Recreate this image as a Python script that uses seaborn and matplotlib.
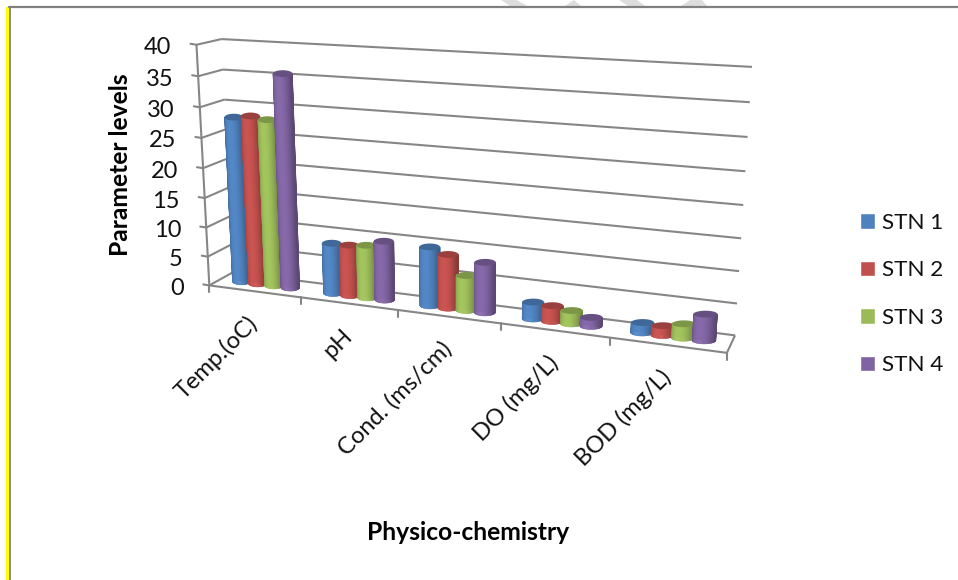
import numpy as np
import pandas as pd
import matplotlib
matplotlib.use("Agg")
import matplotlib.pyplot as plt
from matplotlib.colors import to_rgb
from matplotlib.patches import Polygon, Rectangle
from matplotlib.transforms import IdentityTransform, Transform
import seaborn as sns

# ---- data ----
categories = ["Temp.(oC)", "pH", "Cond. (ms/cm)", "DO (mg/L)", "BOD (mg/L)"]
stations = ["STN 1", "STN 2", "STN 3", "STN 4"]
stn1 = [28.0, 8.5, 9.7, 2.7, 1.6]
stn2 = [28.4, 8.5, 8.8, 2.5, 1.5]
stn3 = [28.0, 8.8, 5.7, 2.1, 2.2]
stn4 = [35.6, 9.8, 8.2, 1.4, 4.1]
colors = ["#4F81BD", "#C0504D", "#9BBB59", "#8064A2"]
y_ticks = list(range(0, 45, 5))
W, H = 958, 580

df = pd.DataFrame({
    "cat": categories * 4,
    "stn": [s for s in stations for _ in categories],
    "val": stn1 + stn2 + stn3 + stn4,
})

# ---- oblique perspective: (category, value, depth) -> picture pixels ----
anchors = [
    (-.5, 0, 0, 210, 285), (.5, 0, 0, 301, 297), (1.5, 0, 0, 398, 310),
    (2.5, 0, 0, 501, 323.7), (3.5, 0, 0, 610, 338), (4.5, 0, 0, 727, 353),
    (-.5, 40, 0, 196, 45), (-.5, 20, 0, 202.7, 168), (-.5, 0, 1, 232, 273),
    (-.5, 40, 1, 222, 39), (4.5, 0, 1, 735, 335), (4.5, 40, 1, 752, 67),
    (4.5, 20, 1, 743.3, 204.7),
]
rows = []
for ax_, ay_, az_, px_, py_ in anchors:
    v = [ax_, ay_ / 40, az_, 1]
    rows.append(v + [0, 0, 0, 0] + [-px_ / 100 * c for c in v])
    rows.append([0, 0, 0, 0] + v + [-py_ / 100 * c for c in v])
CAM = np.linalg.svd(np.array(rows))[2][-1].reshape(3, 4)


def project(x, y, z):
    x, y, z = np.broadcast_arrays(np.asarray(x, float), np.asarray(y, float), np.asarray(z, float))
    p = np.stack([x, y / 40, z, np.ones_like(x)], axis=-1) @ CAM.T
    return p[..., 0] / p[..., 2] * 100, H - p[..., 1] / p[..., 2] * 100


class Camera(Transform):
    input_dims = output_dims = 2
    is_separable = False

    def __init__(self, plane_z):
        super().__init__()
        self.plane_z = plane_z

    def transform_non_affine(self, values):
        values = np.asarray(values, float)
        return np.column_stack(project(values[:, 0], values[:, 1], self.plane_z))


sns.set_theme(style="white")
plt.rcParams["font.family"] = ["Lato", "DejaVu Sans"]
fig = plt.figure(figsize=(W / 100, H / 100), dpi=100, facecolor="white")
ax = fig.add_axes([0, 0, 1, 1])
sns.barplot(data=df, x="cat", y="val", hue="stn", order=categories, hue_order=stations,
            palette=colors, saturation=1, width=0.72, gap=-0.12, errorbar=None, ax=ax)
ax.set_xlim(-.5, 4.5)
ax.set_ylim(0, 40)
ax.set_axis_off()
ID = IdentityTransform()
GRID = "#868686"


def line3(p, q, lw=1.5, color=GRID, z=1):
    xs, ys = project(*np.array([p, q], float).T)
    ax.plot(xs, ys, color=color, lw=lw, transform=ID, clip_on=False, zorder=z, solid_capstyle="butt")


# walls, floor and ticks
for t in y_ticks:
    line3((-.5, t, 1), (4.5, t, 1))
    line3((-.5, t, 0), (-.5, t, 1))
    x0, y0 = project(-.5, t, 0)
    ax.plot([x0 - 6, x0], [y0 + 1, y0], color=GRID, lw=1.5, transform=ID, clip_on=False)
    ax.text(x0 - 25, y0 - 3, str(t), ha="right", va="center", fontsize=17, color="#111111",
            transform=ID, clip_on=False)
line3((-.5, 0, 0), (-.5, 40, 0))
line3((-.5, 0, 0), (4.5, 0, 0))
line3((4.5, 0, 0), (4.5, 0, 1))
for i in range(6):
    x0, y0 = project(i - .5, 0, 0)
    ax.plot([x0, x0], [y0, y0 - 7], color=GRID, lw=1.5, transform=ID, clip_on=False)

# category labels
for i, name in enumerate(categories):
    x0, y0 = project(i, 0, 0)
    ax.text(x0, y0 - 29, name, rotation=45, rotation_mode="anchor", ha="right",
            va="center", fontsize=17, color="#111111", transform=ID, clip_on=False)

# seaborn's bars become cylinders standing mid-way between the walls
ZC, RY, N = 0.5, 3.4, 30
cam = Camera(ZC)


def rim(xc, r, val, ang_x, ang_y):
    """Screen ellipse of a cylinder section, level on the page."""
    cx, cy = project(xc, val, ZC)
    ax_x, _ = project(xc + r, val, ZC)
    return cx + (ax_x - cx) * ang_x, cy + RY * ang_y


for s, cont in enumerate(ax.containers):
    base = np.array(to_rgb(colors[s]))
    for bar in cont:
        xc = bar.get_x() + bar.get_width() / 2
        r = bar.get_width() / 2
        top = bar.get_height()
        bar.set_transform(cam)
        bar.set_clip_on(False)
        bar.set_edgecolor("none")
        bar.set_zorder(3 + s)
        th = np.linspace(-np.pi / 2, np.pi / 2, N + 1)
        for k in range(N):
            tt = np.linspace(th[k], th[k + 1], 3)
            bx, by = rim(xc, r, 0, np.sin(tt), -np.cos(tt))
            tx, ty = rim(xc, r, top, np.sin(tt), -np.cos(tt))
            mid = (th[k] + th[k + 1]) / 2
            cv = max(np.cos(mid + 0.4), 0)
            shade = 0.72 + 0.34 * cv ** 1.5
            c = np.clip(base * shade, 0, 1)
            ax.add_patch(Polygon(np.column_stack([np.r_[bx, tx[::-1]], np.r_[by, ty[::-1]]]), closed=True,
                                 facecolor=c, edgecolor=c, lw=0.4, transform=ID, clip_on=False, zorder=3 + s))
        ang = np.linspace(0, 2 * np.pi, 60)
        ex, ey = rim(xc, r, top, np.cos(ang), np.sin(ang))
        ax.add_patch(Polygon(np.column_stack([ex, ey]), closed=True, facecolor=base * 0.8, edgecolor="none",
                             transform=ID, clip_on=False, zorder=3 + s))

# legend
handles, labels = ax.get_legend_handles_labels()
if ax.get_legend():
    ax.get_legend().remove()
leg = ax.legend(handles, labels, frameon=False, fontsize=16.2, handlelength=0.69, handleheight=0.69,
                handletextpad=0.3, labelspacing=1.22, borderpad=0, borderaxespad=0,
                loc="upper left", bbox_to_anchor=(859.5 / W, 1 - 213 / H), bbox_transform=fig.transFigure)
for t in leg.get_texts():
    t.set_color("#111111")

# axis titles
fig.text(468 / W, 1 - 532 / H, "Physico-chemistry", ha="center", va="center", fontsize=17.7, fontweight="bold", color="black")
fig.text(121 / W, 1 - 165 / H, "Parameter levels", ha="center", va="center", rotation=90, fontsize=17.7, fontweight="bold", color="black")

# page furniture of the scanned source
ax.add_patch(Rectangle((6, 0), 3.4, H - 7, facecolor="#FFFF00", edgecolor="none", transform=ID, clip_on=False))
ax.plot([9, W], [H - 7, H - 7], color="#808080", lw=1.6, transform=ID, clip_on=False)
ax.plot([9.8, 9.8], [0, H - 7], color="#808080", lw=1.3, transform=ID, clip_on=False)
for pts in ([(501, 0), (517, 0), (527, 6), (510, 6)], [(565, 6), (574, 0), (581, 6)],
            [(619, 0), (637, 0), (645, 6), (628, 6)], [(681, 6), (690, 0), (702, 0), (707, 6)]):
    ax.add_patch(Polygon([(a, H - b) for a, b in pts], closed=True, facecolor="#DDDDDD", edgecolor="none",
                         transform=ID, clip_on=False))

fig.savefig("out.png", dpi=100)
